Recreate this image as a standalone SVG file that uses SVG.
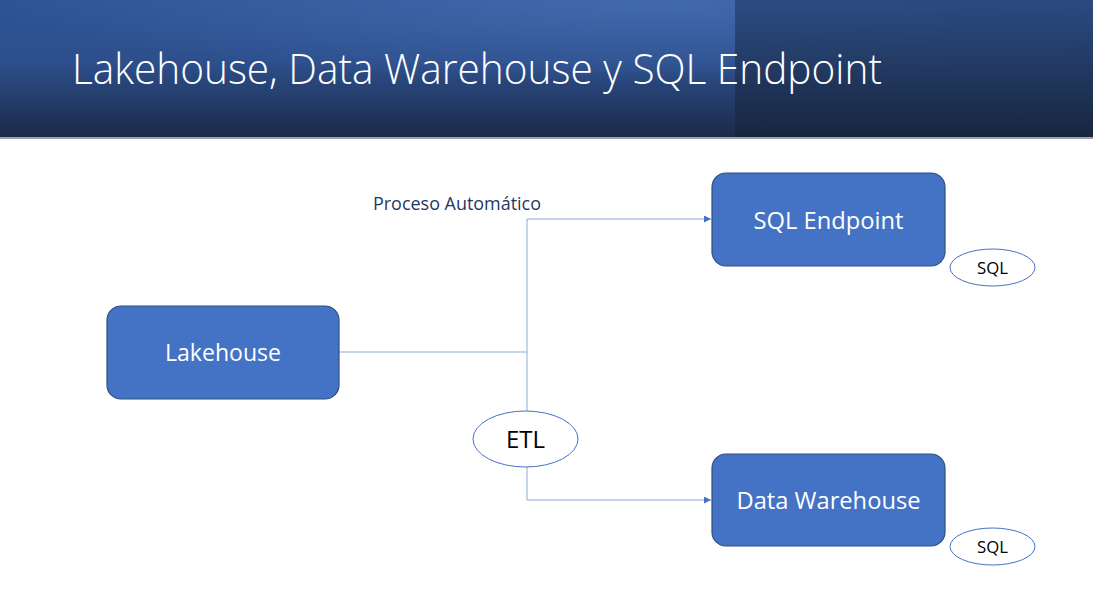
<svg xmlns="http://www.w3.org/2000/svg" width="1093" height="596" viewBox="0 0 1093 596">
<defs>
<linearGradient id="hdr" x1="0" y1="0" x2="0" y2="1">
<stop offset="0" stop-color="#2E5494"/>
<stop offset="0.45" stop-color="#2D4F8C"/>
<stop offset="1" stop-color="#1B2A48"/>
</linearGradient>
<radialGradient id="glow" cx="0.6" cy="0" r="0.6">
<stop offset="0" stop-color="#4A74B8" stop-opacity="0.7"/>
<stop offset="1" stop-color="#4A74B8" stop-opacity="0"/>
</radialGradient>
<linearGradient id="panel" x1="0" y1="0" x2="0" y2="1">
<stop offset="0" stop-color="#284779"/>
<stop offset="1" stop-color="#18243D"/>
</linearGradient>
<marker id="arr" viewBox="0 0 10 10" refX="10" refY="5" markerWidth="7" markerHeight="7" markerUnits="userSpaceOnUse" orient="auto">
<path d="M0,0 L10,5 L0,10 z" fill="#4472C4"/>
</marker>
<style>
.box{fill:#4472C4;stroke:#2F4F80;stroke-width:1.2}
.boxt{font-family:"Open Sans","Noto Sans",sans-serif;font-size:23.5px;fill:#FFFFFF;text-anchor:middle}
.ell{fill:#FFFFFF;stroke:#4472C4;stroke-width:1}
.ellt{font-family:"Open Sans","Noto Sans",sans-serif;fill:#000000;text-anchor:middle}
.con{fill:none;stroke:#8EA9DB;stroke-width:1}
</style>
</defs>
<rect x="0" y="0" width="1093" height="596" fill="#FFFFFF"/>
<g id="header">
<rect x="0" y="0" width="1093" height="138" fill="url(#hdr)"/>
<rect x="0" y="0" width="1093" height="138" fill="url(#glow)"/>
<rect x="735" y="0" width="358" height="138" fill="url(#panel)" opacity="0.85"/>
<rect x="0" y="137" width="1093" height="2" fill="#9AA3B0"/>
<text x="72" y="84" font-family="Open Sans, Noto Sans, sans-serif" font-weight="300" font-size="42" fill="#FFFFFF" textLength="810" lengthAdjust="spacingAndGlyphs">Lakehouse, Data Warehouse y SQL Endpoint</text>
</g>
<g id="connectors">
<polyline class="con" points="339,352 527,352"/>
<polyline class="con" points="527,411 527,219 711,219" marker-end="url(#arr)"/>
<polyline class="con" points="527,467 527,500 711,500" marker-end="url(#arr)"/>
</g>
<g id="label-proceso">
<text x="373" y="210" font-family="Open Sans, Noto Sans, sans-serif" font-size="17.5" fill="#1F3864" textLength="168" lengthAdjust="spacingAndGlyphs">Proceso Automático</text>
</g>
<g id="lakehouse">
<rect class="box" x="107" y="306" width="232" height="93" rx="14"/>
<text class="boxt" x="223" y="361" textLength="116" lengthAdjust="spacingAndGlyphs">Lakehouse</text>
</g>
<g id="sql-endpoint">
<rect class="box" x="712" y="173" width="233" height="93" rx="14"/>
<text class="boxt" x="828.5" y="229" textLength="150" lengthAdjust="spacingAndGlyphs">SQL Endpoint</text>
</g>
<g id="data-warehouse">
<rect class="box" x="712" y="454" width="233" height="92" rx="14"/>
<text class="boxt" x="828.5" y="509" textLength="184" lengthAdjust="spacingAndGlyphs">Data Warehouse</text>
</g>
<g id="etl">
<ellipse class="ell" cx="525.5" cy="439" rx="52.5" ry="28"/>
<text class="ellt" x="525.5" y="448" font-size="24" textLength="39" lengthAdjust="spacingAndGlyphs">ETL</text>
</g>
<g id="sql1">
<ellipse class="ell" cx="992.5" cy="267.5" rx="42.5" ry="18.5"/>
<text class="ellt" x="992.5" y="274" font-size="17" textLength="31" lengthAdjust="spacingAndGlyphs">SQL</text>
</g>
<g id="sql2">
<ellipse class="ell" cx="992.5" cy="546.5" rx="42.5" ry="18.5"/>
<text class="ellt" x="992.5" y="553" font-size="17" textLength="31" lengthAdjust="spacingAndGlyphs">SQL</text>
</g>
</svg>
